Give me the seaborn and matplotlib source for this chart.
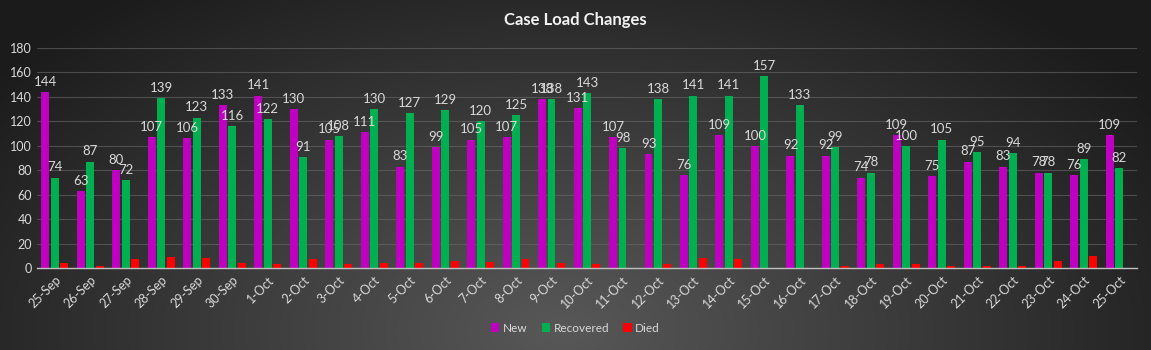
import numpy as np
import pandas as pd
import matplotlib
matplotlib.use("Agg")
import matplotlib.pyplot as plt
import seaborn as sns
from matplotlib.patches import Patch

dates = ["25-Sep", "26-Sep", "27-Sep", "28-Sep", "29-Sep", "30-Sep",
         "1-Oct", "2-Oct", "3-Oct", "4-Oct", "5-Oct", "6-Oct", "7-Oct", "8-Oct",
         "9-Oct", "10-Oct", "11-Oct", "12-Oct", "13-Oct", "14-Oct", "15-Oct",
         "16-Oct", "17-Oct", "18-Oct", "19-Oct", "20-Oct", "21-Oct", "22-Oct",
         "23-Oct", "24-Oct", "25-Oct"]
new = [144, 63, 80, 107, 106, 133, 141, 130, 105, 111, 83, 99, 105, 107, 138,
       131, 107, 93, 76, 109, 100, 92, 92, 74, 109, 75, 87, 83, 78, 76, 109]
recovered = [74, 87, 72, 139, 123, 116, 122, 91, 108, 130, 127, 129, 120, 125,
             138, 143, 98, 138, 141, 141, 157, 133, 99, 78, 100, 105, 95, 94,
             78, 89, 82]
died = [4, 2, 7, 9, 8, 4, 3, 7, 3, 4, 4, 6, 5, 7, 4, 3, 0, 3, 8, 7, 0,
        0, 2, 3, 3, 2, 2, 2, 6, 10, 0]
series = ["New", "Recovered", "Died"]
colors = ["#C000C0", "#00B050", "#FF0000"]

df = pd.DataFrame({"Date": dates * 3,
                   "Series": ["New"] * len(dates) + ["Recovered"] * len(dates) + ["Died"] * len(dates),
                   "Value": new + recovered + died})

sns.set_style("dark")
plt.rcParams["font.family"] = ["Lato", "DejaVu Sans"]

fig = plt.figure(figsize=(11.51, 3.5), dpi=100)

# radial gradient background
bg = fig.add_axes([0, 0, 1, 1], zorder=-10)
W, H = 1151, 350
yy, xx = np.mgrid[0:H, 0:W]
cx, cy = 560, 330
r = np.sqrt(((xx - cx) / 700.0) ** 2 + ((yy - cy) / 420.0) ** 2)
r = np.clip(r, 0, 1)
c0 = np.array([0x58, 0x58, 0x58]) / 255.0
c1 = np.array([0x1c, 0x1c, 0x1c]) / 255.0
img = c0[None, None, :] * (1 - r[..., None]) + c1[None, None, :] * r[..., None]
bg.imshow(img, aspect="auto", extent=[0, 1, 0, 1])
bg.axis("off")

ax = fig.add_axes([37 / W, 1 - 268 / H, 1100 / W, 220 / H])
ax.set_facecolor("none")
sns.barplot(data=df, x="Date", y="Value", hue="Series", hue_order=series,
            palette=colors, width=0.8, gap=0.16, saturation=1, ax=ax,
            legend=False, zorder=3, linewidth=0, edgecolor="none")

label_color = "#D9D9D9"
for i, cont in enumerate(ax.containers):
    if series[i] in ("New", "Recovered"):
        ax.bar_label(cont, labels=[str(int(v)) for v in cont.datavalues],
                     padding=3, color=label_color, fontsize=9.5)

ax.set_ylim(0, 180)
ax.set_xlim(-0.5, len(dates) - 0.5)
ax.set_yticks(range(0, 181, 20))
ax.yaxis.grid(True, color="#6a6a6a", linewidth=0.8, alpha=0.6)
ax.xaxis.grid(False)
ax.set_axisbelow(True)
for s in ["top", "right", "left"]:
    ax.spines[s].set_visible(False)
ax.spines["bottom"].set_color("#BFBFBF")
ax.spines["bottom"].set_linewidth(1)
ax.spines["bottom"].set_zorder(4)
ax.tick_params(axis="y", length=0, colors=label_color, labelsize=9)
ax.tick_params(axis="x", which="major", length=0, colors=label_color, labelsize=9, pad=4)
ax.set_xticks(np.arange(-0.5, len(dates), 1), minor=True)
ax.tick_params(axis="x", which="minor", length=4, color="#BFBFBF", width=1)
for lab in ax.get_xticklabels():
    lab.set_rotation(45)
    lab.set_ha("right")
    lab.set_rotation_mode("anchor")
ax.set_xlabel("")
ax.set_ylabel("")

fig.text(0.5, 1 - 20 / H, "Case Load Changes", ha="center", va="center",
         color="#F2F2F2", fontsize=12, fontweight="bold")

handles = [Patch(facecolor=c, edgecolor="none") for c in colors]
fig.legend(handles, series, loc="center", bbox_to_anchor=(0.5, 1 - 328 / H),
           ncol=3, frameon=False, fontsize=8.5, labelcolor=label_color,
           handlelength=0.7, handleheight=0.7, handletextpad=0.3, columnspacing=1.2)

fig.savefig("out.png", dpi=100)
